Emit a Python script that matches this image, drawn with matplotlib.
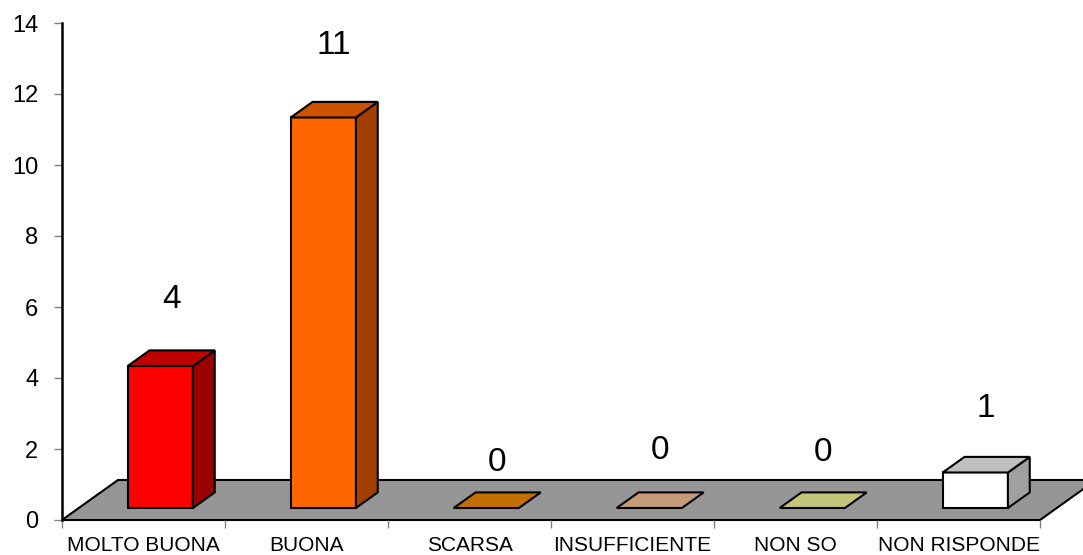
import matplotlib
matplotlib.use("Agg")
import matplotlib.pyplot as plt
from matplotlib.patches import Polygon

plt.rcParams["font.family"] = ["Liberation Sans", "DejaVu Sans"]

categories = ["MOLTO BUONA", "BUONA", "SCARSA", "INSUFFICIENTE", "NON SO", "NON RISPONDE"]
values = [4, 11, 0, 0, 0, 1]
front_colors = ["#ff0000", "#ff6600", "#c07000", "#c49a78", "#c4c47a", "#ffffff"]
top_colors = ["#c00000", "#cc5200", "#c07000", "#c49a78", "#c4c47a", "#c0c0c0"]
side_colors = ["#9a0000", "#a34000", "#8a5000", "#9a7858", "#9a9a5a", "#a0a0a0"]
yticks = [0, 2, 4, 6, 8, 10, 12, 14]

# oblique depth vector of the floor, in data units (categories, value)
DX, DY = 0.3436, 1.127
BAR_W = 0.40
D0, D1 = 0.30, 0.69   # bar front / back as fraction of floor depth
label_gap = [1.42, 1.6, 0.85, 1.19, 1.12, 1.37]   # distance of data label above bar top

fig = plt.figure(figsize=(10.83, 5.55), dpi=100)
ax = fig.add_axes([62 / 1083, 35 / 555, 978 / 1083, 497 / 555])
ax.set_xlim(0, 6)
ax.set_ylim(0, 14)

# grey floor
floor = Polygon([(0, 0), (6, 0), (6 + DX, DY), (DX, DY)], closed=True,
                facecolor="#969696", edgecolor="black", linewidth=1.5,
                clip_on=False, zorder=1)
ax.add_patch(floor)

for i, v in enumerate(values):
    x0 = i + 0.5 - BAR_W / 2 + D0 * DX
    x1 = x0 + BAR_W
    y0 = D0 * DY
    y1 = y0 + v
    ddx = (D1 - D0) * DX
    ddy = (D1 - D0) * DY
    kw = dict(closed=True, edgecolor="black", linewidth=1.5, clip_on=False, zorder=3)
    if v > 0:
        ax.add_patch(Polygon([(x0, y0), (x1, y0), (x1, y1), (x0, y1)],
                             facecolor=front_colors[i], **kw))
        ax.add_patch(Polygon([(x1, y0), (x1 + ddx, y0 + ddy), (x1 + ddx, y1 + ddy), (x1, y1)],
                             facecolor=side_colors[i], **kw))
    ax.add_patch(Polygon([(x0, y1), (x1, y1), (x1 + ddx, y1 + ddy), (x0 + ddx, y1 + ddy)],
                         facecolor=top_colors[i], **kw))
    ax.text((x0 + x1) / 2 + ddx / 2, y1 + ddy + label_gap[i], str(v),
            ha="center", va="center", fontsize=24, zorder=4)

for s in ["top", "right", "bottom"]:
    ax.spines[s].set_visible(False)
ax.spines["left"].set_linewidth(1.8)
ax.spines["left"].set_zorder(5)

ax.set_yticks(yticks)
ax.tick_params(axis="y", length=6, width=1, color="#808080", labelsize=17, pad=11)

ax.set_xticks(range(7))
ax.set_xticklabels([])
ax.tick_params(axis="x", length=6, width=1, color="#808080", direction="out")
for i, name in enumerate(categories):
    ax.text(i + 0.5, -0.72, name, ha="center", va="center", fontsize=15, clip_on=False)

fig.savefig("out.png", dpi=100)
